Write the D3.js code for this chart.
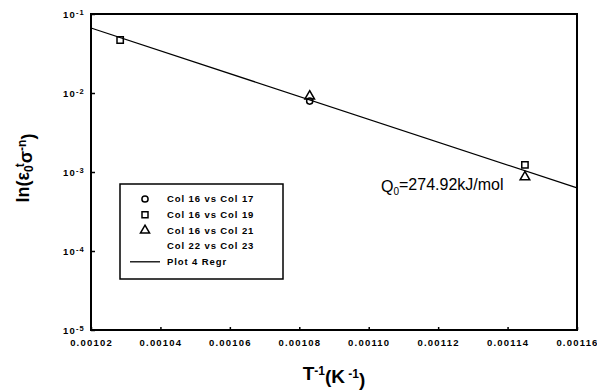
<!DOCTYPE html>
<html>
<head>
<meta charset="utf-8">
<script src="https://cdn.jsdelivr.net/npm/d3@7"></script>
<style>
body { margin: 0; background: #fff; }
text { font-family: Arial, "Liberation Sans", sans-serif; fill: #000; }
.tick text { font-size: 9.5px; font-weight: bold; letter-spacing: 1.2px; }
.tick line { stroke: #000; stroke-width: 1.5; }
.domain { display: none; }
.leg { font-size: 9.5px; font-weight: bold; letter-spacing: 0.9px; }
</style>
</head>
<body>
<svg id="chart" width="597" height="390"></svg>
<script>
// values
var xTicks = [0.00102, 0.00104, 0.00106, 0.00108, 0.00110, 0.00112, 0.00114, 0.00116];
var yTicks = [1e-1, 1e-2, 1e-3, 1e-4, 1e-5];
var yTickExp = ["-1", "-2", "-3", "-4", "-5"];

var circleX = [0.001083];
var circleY = [0.0079];
var squareX = [0.0010284, 0.001145];
var squareY = [0.0469, 0.00123];
var triangleX = [0.001083, 0.001145];
var triangleY = [0.0091, 0.000865];
var regrX = [0.00102, 0.00116];
var regrY = [0.0665, 0.00063];

var legendNames = ["Col 16 vs Col 17", "Col 16 vs Col 19", "Col 16 vs Col 21", "Col 22 vs Col 23", "Plot 4 Regr"];
var legendKinds = ["circle", "square", "triangle", "none", "line"];

var margin = {top: 14, right: 20, bottom: 60, left: 91};
var width = 597 - margin.left - margin.right;
var height = 390 - margin.top - margin.bottom;

var svg = d3.select("#chart");
var g = svg.append("g")
           .attr("transform", "translate(" + margin.left + "," + margin.top + ")");

var xScale = d3.scaleLinear().domain([0.00102, 0.00116]).range([0, width]);
var yScale = d3.scaleLog().domain([1e-5, 1e-1]).range([height, 0]);

var symbols = {circle: d3.symbolCircle, square: d3.symbolSquare, triangle: d3.symbolTriangle};

// axes, ticks point inward
var xAxis = d3.axisBottom(xScale)
              .tickValues(xTicks)
              .tickSize(-3)
              .tickPadding(9)
              .tickFormat(d3.format(".5f"));
g.append("g")
  .attr("transform", "translate(0," + height + ")")
  .call(xAxis);

var yAxis = d3.axisLeft(yScale)
              .tickValues(yTicks)
              .tickSize(-4)
              .tickPadding(8)
              .tickFormat("");
var yg = g.append("g").call(yAxis);
yg.selectAll(".tick").each(function(d, i) {
  var t = d3.select(this).append("text")
            .attr("x", -6)
            .attr("dy", "0.32em")
            .style("text-anchor", "end");
  t.append("tspan").text("10");
  t.append("tspan").attr("dy", "-0.4em").style("font-size", "7.5px").text(yTickExp[i]);
});

// frame
g.append("rect")
  .attr("width", width)
  .attr("height", height)
  .attr("fill", "none")
  .attr("stroke", "#000")
  .attr("stroke-width", 2);

// regression line
var line = d3.line()
             .x(function(d) { return xScale(d[0]); })
             .y(function(d) { return yScale(d[1]); });
g.append("path")
  .datum(d3.zip(regrX, regrY))
  .attr("d", line)
  .attr("fill", "none")
  .attr("stroke", "#000")
  .attr("stroke-width", 1.3);

function drawMarkers(xs, ys, kind, size) {
  g.selectAll(".m_" + kind)
    .data(d3.zip(xs, ys))
    .enter().append("path")
    .attr("class", "m_" + kind)
    .attr("transform", function(d) { return "translate(" + xScale(d[0]) + "," + yScale(d[1]) + ")"; })
    .attr("d", d3.symbol().type(symbols[kind]).size(size))
    .attr("fill", "none")
    .attr("stroke", "#000")
    .attr("stroke-width", 1.5);
}
drawMarkers(circleX, circleY, "circle", 30);
drawMarkers(squareX, squareY, "square", 40);
drawMarkers(triangleX, triangleY, "triangle", 40);

// legend
var legend = svg.append("g").attr("transform", "translate(120,184)");
legend.append("rect")
  .attr("width", 163)
  .attr("height", 95)
  .attr("fill", "#fff")
  .attr("stroke", "#000")
  .attr("stroke-width", 1.5);

var rows = legend.selectAll(".row")
                 .data(legendNames)
                 .enter().append("g")
                 .attr("transform", function(d, i) { return "translate(0," + (15 + i * 15.7) + ")"; });
rows.append("text")
  .attr("class", "leg")
  .attr("x", 47)
  .attr("dy", "0.35em")
  .text(function(d) { return d; });
rows.each(function(d, i) {
  var r = d3.select(this);
  var kind = legendKinds[i];
  if (kind == "line") {
    r.append("line").attr("x1", 10).attr("x2", 40)
      .attr("stroke", "#000").attr("stroke-width", 1.3);
  } else if (kind != "none") {
    r.append("path")
      .attr("transform", "translate(25,0)")
      .attr("d", d3.symbol().type(symbols[kind]).size(kind == "circle" ? 30 : 36))
      .attr("fill", "none")
      .attr("stroke", "#000")
      .attr("stroke-width", 1.5);
  }
});

// annotation
var q = svg.append("text")
           .attr("x", 381)
           .attr("y", 192)
           .style("font-size", "16px");
q.append("tspan").text("Q");
q.append("tspan").attr("dy", "0.3em").style("font-size", "10px").text("0");
q.append("tspan").attr("dy", "-0.3em").text("=274.92kJ/mol");

// axis titles
var xt = svg.append("text")
            .attr("x", 334)
            .attr("y", 380)
            .style("text-anchor", "middle")
            .style("font-size", "19px")
            .style("font-weight", "bold");
xt.append("tspan").text("T");
xt.append("tspan").attr("dy", "-0.45em").style("font-size", "12px").text("-1");
xt.append("tspan").attr("dy", "0.45em").text("(K");
xt.append("tspan").attr("dy", "-0.45em").style("font-size", "12px").text(" -1");
xt.append("tspan").attr("dy", "0.45em").text(")");

var yt = svg.append("text")
            .attr("transform", "translate(29,168) rotate(-90)")
            .style("text-anchor", "middle")
            .style("font-size", "18px")
            .style("font-weight", "bold");
yt.append("tspan").text("ln(ε");
yt.append("tspan").attr("dy", "0.3em").style("font-size", "12px").text("0");
yt.append("tspan").attr("dy", "-0.75em").attr("dx", "-2").style("font-size", "12px").text("t");
yt.append("tspan").attr("dy", "0.45em").text("σ");
yt.append("tspan").attr("dy", "-0.45em").style("font-size", "12px").text("-n");
yt.append("tspan").attr("dy", "0.45em").text(")");
</script>
</body>
</html>
